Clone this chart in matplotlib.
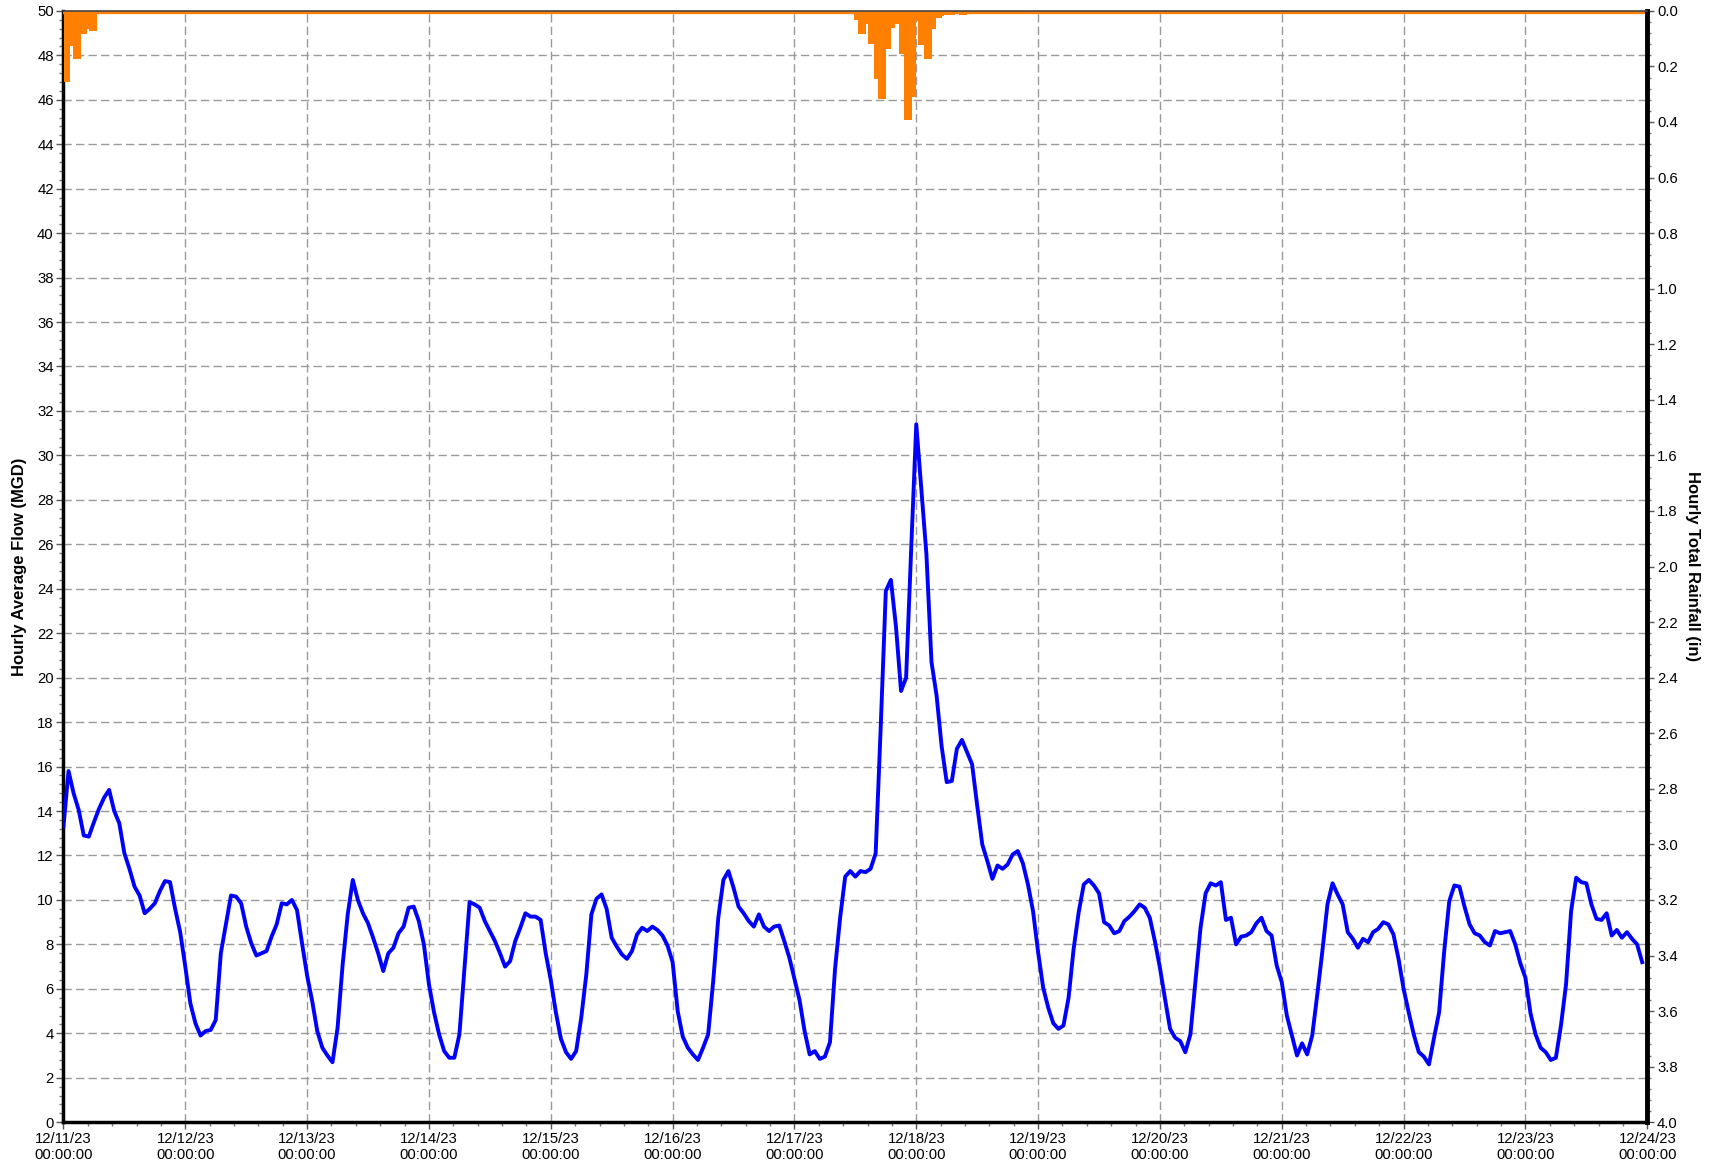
import numpy as np
import pandas as pd
import matplotlib
matplotlib.use("Agg")
import matplotlib.pyplot as plt
import matplotlib.dates as mdates
from matplotlib.ticker import MultipleLocator, AutoMinorLocator, FormatStrFormatter

plt.rcParams['font.family'] = ['Liberation Sans', 'DejaVu Sans']

start = "2023-12-11 00:00"

# hourly average flow (MGD), one row per day
flow = [
    13.3, 15.8, 14.8, 14.05, 12.9, 12.85, 13.5, 14.1, 14.6, 14.95, 14.0, 13.45, 12.1, 11.4, 10.6, 10.2, 9.4, 9.6, 9.85, 10.4, 10.85, 10.8, 9.6, 8.55,
    7.0, 5.35, 4.45, 3.9, 4.1, 4.15, 4.6, 7.6, 8.9, 10.2, 10.15, 9.85, 8.8, 8.05, 7.5, 7.6, 7.7, 8.35, 8.9, 9.85, 9.8, 10.0, 9.55, 8.05,
    6.6, 5.45, 4.1, 3.35, 3.0, 2.7, 4.25, 7.1, 9.35, 10.9, 10.0, 9.4, 8.95, 8.3, 7.6, 6.8, 7.6, 7.85, 8.5, 8.8, 9.65, 9.7, 9.05, 8.0,
    6.2, 4.95, 3.95, 3.2, 2.9, 2.9, 3.95, 6.95, 9.9, 9.8, 9.65, 9.05, 8.6, 8.15, 7.6, 7.0, 7.25, 8.15, 8.75, 9.4, 9.25, 9.25, 9.1, 7.6,
    6.4, 4.95, 3.75, 3.15, 2.85, 3.2, 4.7, 6.65, 9.35, 10.05, 10.25, 9.6, 8.3, 7.9, 7.55, 7.35, 7.7, 8.45, 8.75, 8.6, 8.8, 8.65, 8.4, 7.95,
    7.2, 5.0, 3.85, 3.35, 3.05, 2.8, 3.35, 3.95, 6.35, 9.2, 10.9, 11.3, 10.55, 9.7, 9.4, 9.05, 8.8, 9.35, 8.8, 8.6, 8.8, 8.85, 8.15, 7.4,
    6.45, 5.5, 4.1, 3.05, 3.2, 2.85, 2.95, 3.6, 6.9, 9.2, 11.05, 11.3, 11.05, 11.3, 11.25, 11.4, 12.1, 17.8, 23.9, 24.4, 22.3, 19.4, 20.0, 25.8,
    31.4, 28.45, 25.55, 20.7, 19.2, 16.9, 15.3, 15.35, 16.8, 17.2, 16.65, 16.1, 14.25, 12.5, 11.75, 10.95, 11.55, 11.4, 11.6, 12.05, 12.2, 11.65, 10.7, 9.5,
    7.65, 6.05, 5.15, 4.45, 4.2, 4.35, 5.6, 7.8, 9.45, 10.7, 10.9, 10.65, 10.3, 9.0, 8.85, 8.5, 8.6, 9.05, 9.25, 9.5, 9.8, 9.65, 9.2, 8.15,
    6.95, 5.55, 4.2, 3.8, 3.65, 3.15, 3.95, 6.35, 8.75, 10.3, 10.75, 10.65, 10.8, 9.1, 9.2, 8.0, 8.35, 8.4, 8.55, 8.95, 9.2, 8.6, 8.4, 7.05,
    6.3, 4.8, 3.9, 3.0, 3.55, 3.05, 3.9, 5.75, 7.7, 9.8, 10.75, 10.25, 9.8, 8.55, 8.25, 7.85, 8.25, 8.1, 8.55, 8.7, 9.0, 8.9, 8.45, 7.35,
    6.0, 4.95, 3.95, 3.15, 2.95, 2.6, 3.8, 4.95, 7.7, 9.95, 10.65, 10.6, 9.7, 8.9, 8.5, 8.4, 8.1, 7.95, 8.6, 8.5, 8.55, 8.6, 8.0, 7.15,
    6.5, 4.9, 3.95, 3.35, 3.15, 2.8, 2.9, 4.35, 6.2, 9.5, 11.0, 10.8, 10.75, 9.8, 9.15, 9.1, 9.4, 8.4, 8.65, 8.3, 8.55, 8.25, 8.0, 7.2,
]

# rainfall (in): step edges in hours since start, and depth for each step
rain1_edges_h = [0.2, 1.3, 1.85, 3.5, 4.7, 5.1, 6.55]
rain1_in = [0.255, 0.126, 0.174, 0.082, 0.066, 0.074]
rain2_edges_h = [155.7, 156.5, 158.0, 158.5, 159.7, 160.5, 162.0, 163.1, 163.9, 164.5, 165.6,
                 167.1, 168.0, 168.4, 169.5, 171.0, 171.8, 173.0, 173.4, 175.7, 176.4, 177.9]
rain2_in = [0.034, 0.082, 0.046, 0.118, 0.244, 0.316, 0.136, 0.062, 0.046, 0.156, 0.394,
            0.31, 0.036, 0.124, 0.175, 0.064, 0.024, 0.018, 0.014, 0.006, 0.014]

times = pd.date_range(start, periods=len(flow), freq="h")
x = mdates.date2num(times)
t0 = mdates.date2num(pd.Timestamp(start))
t_end = mdates.date2num(pd.Timestamp("2023-12-24 00:00"))

fig = plt.figure(figsize=(17.15, 11.68), dpi=100)
ax = fig.add_axes([0.037, 0.0392, 0.9235, 0.9515])
ax2 = ax.twinx()

ax.plot(x, flow, color="#0000ff", lw=2.8, zorder=3)

orange = "#ff8000"
ax2.stairs(rain1_in, t0 + np.array(rain1_edges_h) / 24, fill=True, color=orange, lw=0)
ax2.stairs(rain2_in, t0 + np.array(rain2_edges_h) / 24, fill=True, color=orange, lw=0)
ax2.axhline(0, color=orange, lw=4.5)

ax.set_xlim(t0, t_end)
ax.set_ylim(0, 50)
ax2.set_ylim(4.0, 0.0)

ax.xaxis.set_major_locator(mdates.DayLocator())
ax.xaxis.set_major_formatter(mdates.DateFormatter("%m/%d/%y\n%H:%M:%S"))
ax.xaxis.set_minor_locator(AutoMinorLocator(5))
ax.yaxis.set_major_locator(MultipleLocator(2))
ax.yaxis.set_minor_locator(AutoMinorLocator(5))
ax2.yaxis.set_major_locator(MultipleLocator(0.2))
ax2.yaxis.set_minor_locator(AutoMinorLocator(5))
ax2.yaxis.set_major_formatter(FormatStrFormatter("%.1f"))

ax.grid(True, which="major", color="#9a9a9a", lw=1.0, dashes=(6, 3))

for a in (ax, ax2):
    a.tick_params(which="major", length=5, width=1, color="#555555", labelsize=10.7, pad=2)
    a.tick_params(which="minor", length=3, width=1, color="#777777")

for side, w in (("left", 2.5), ("bottom", 2.5)):
    ax.spines[side].set_linewidth(w)
    ax.spines[side].set_color("black")
ax2.spines["right"].set_linewidth(3.5)
ax2.spines["right"].set_color("black")
ax2.spines["left"].set_visible(False)
ax2.spines["bottom"].set_visible(False)
ax.spines["top"].set_visible(False)
ax2.spines["top"].set_color("#444444")
ax2.spines["top"].set_linewidth(1.2)
ax2.spines["top"].set_zorder(5)

ax.set_ylabel("Hourly Average Flow (MGD)", fontsize=12, fontweight="bold")
ax.yaxis.set_label_coords(-0.023, 0.5)
ax2.set_ylabel("Hourly Total Rainfall (in)", fontsize=12, fontweight="bold", rotation=270, va="bottom")
ax2.yaxis.set_label_coords(1.024, 0.5)

plt.setp(ax.get_xticklabels(), ha="center", linespacing=1.15)

fig.savefig("out.png", dpi=100)
